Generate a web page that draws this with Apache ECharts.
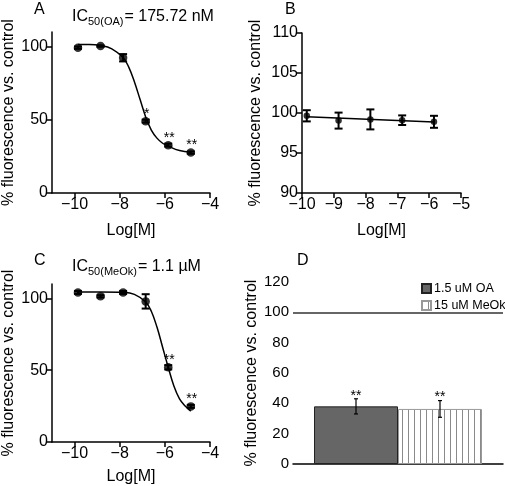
<!DOCTYPE html>
<html><head><meta charset="utf-8">
<script src="https://cdn.jsdelivr.net/npm/echarts@6/dist/echarts.min.js"></script>
<style>html,body{margin:0;padding:0;background:#fff}#c{width:505px;height:486px}</style>
</head><body><div id="c"></div>
<script>
// ---- Panel A data ----
const xA = [-9.85, -8.85, -7.85, -6.85, -5.85, -4.85];
const yA = [99.3, 100.4, 92.4, 49.1, 32.7, 27.6];
const errA = [0.8, 0.5, 2.5, 1.0, 1.0, 0.8];
const starsA = ['', '', '', '*', '**', '**'];
const curveAx = [-9.85, -9.35, -8.85, -8.35, -7.85, -7.6, -7.35, -7.1, -6.85, -6.6, -6.35, -6.1, -5.85, -5.35, -4.85];
const curveAy = [101.5, 101.5, 100.8, 98.5, 92.5, 86, 76, 64, 52, 43, 37.5, 34, 32, 29, 27.8];
const ticksAx = [-10, -8, -6, -4];
const ticksAy = [0, 50, 100];
// ---- Panel B data ----
const xB = [-9.85, -8.85, -7.85, -6.85, -5.85];
const yB = [99.65, 99.05, 99.2, 99.1, 98.9];
const errB = [0.7, 1.0, 1.25, 0.6, 0.75];
const lineBx = [-9.85, -5.85];
const lineBy = [99.54, 98.87];
// ---- Panel C data ----
const xC = [-9.85, -8.85, -7.85, -6.85, -5.85, -4.85];
const yC = [104.1, 101.4, 104.1, 97.9, 52, 24.8];
const errC = [1.0, 0.8, 1.0, 5.0, 1.5, 1.0];
const starsC = ['', '', '', '', '**', '**'];
const curveCx = [-9.85, -8.85, -7.85, -7.35, -6.85, -6.6, -6.35, -6.1, -5.85, -5.6, -5.35, -5.1, -4.85];
const curveCy = [104.5, 104.5, 104.2, 102.8, 97.5, 91, 80, 66, 52, 39, 30, 25, 21.5];
// ---- Panel D data ----
const catD = [''];
const seriesNamesD = ['1.5 uM OA', '15 uM MeOk'];
const valOA = [38];
const errOA = [5];
const valMeOk = [36.3];
const errMeOk = [5.5];
const starsD = ['**', '**'];
const refLineD = 100;

const FONT = '"Liberation Sans", Arial, Helvetica, sans-serif';
const zip = (a, b) => a.map((v, i) => [v, b[i]]);
const minus = v => String(v).replace('-', '\u2212');

// stripe pattern for MeOk bars
const pat = document.createElement('canvas');
pat.width = 6; pat.height = 6;
(function(){const g = pat.getContext('2d'); g.fillStyle = '#fff'; g.fillRect(0,0,6,6); g.fillStyle = '#8a8a8a'; g.fillRect(0,0,1,6);})();

function errRender(lw, cap) {
  return function (params, api) {
    const x = api.value(0), y = api.value(1), e = api.value(2);
    const t = api.coord([x, y + e]), b = api.coord([x, y - e]);
    const st = { stroke: '#000', lineWidth: lw };
    return { type: 'group', children: [
      { type: 'line', shape: { x1: t[0], y1: t[1], x2: b[0], y2: b[1] }, style: st },
      { type: 'line', shape: { x1: t[0] - cap, y1: t[1], x2: t[0] + cap, y2: t[1] }, style: st },
      { type: 'line', shape: { x1: b[0] - cap, y1: b[1], x2: b[0] + cap, y2: b[1] }, style: st }
    ]};
  };
}
const starMap = { sA: starsA, sC: starsC };
function starRender(dy) {
  return function (params, api) {
    const p = api.coord([api.value(0), api.value(1)]);
    return { type: 'text', x: p[0] + 1, y: p[1] - dy, style: { text: starMap[params.seriesName][params.dataIndex], textAlign: 'center', textVerticalAlign: 'bottom', font: '14px ' + FONT, fill: '#000' } };
  };
}

const axisLineStyle = { lineStyle: { color: '#000', width: 1.5 } };
const tickStyle = { length: 5, lineStyle: { color: '#000', width: 1.5 } };
const labStyle = { color: '#000', fontSize: 16, fontFamily: FONT, margin: 4, formatter: minus };
const nameStyle = { color: '#000', fontSize: 16, fontFamily: FONT };
const yName = '% fluorescence vs. control';

function valX(idx, min, max, extra) {
  return Object.assign({ type: 'value', gridIndex: idx, min: min, max: max, name: 'Log[M]', nameLocation: 'middle', nameGap: 30, nameTextStyle: nameStyle,
    axisLine: axisLineStyle, axisTick: tickStyle, axisLabel: labStyle, splitLine: { show: false } }, extra || {});
}
function valY(idx, min, max, gap, extra) {
  return Object.assign({ type: 'value', gridIndex: idx, min: min, max: max, name: yName, nameLocation: 'middle', nameGap: gap, nameTextStyle: nameStyle,
    axisLine: axisLineStyle, axisTick: tickStyle, axisLabel: labStyle, splitLine: { show: false } }, extra || {});
}

const option = {
  animation: false,
  backgroundColor: '#fff',
  textStyle: { fontFamily: FONT },
  grid: [
    { left: 51, top: 32, width: 159, height: 161 },
    { left: 302, top: 33, width: 159, height: 160 },
    { left: 51, top: 284, width: 159, height: 161 },
    { left: 293, top: 282, width: 210, height: 182 }
  ],
  xAxis: [
    valX(0, -11, -4, { axisTick: Object.assign({ customValues: ticksAx }, tickStyle), axisLabel: Object.assign({ customValues: ticksAx }, labStyle) }),
    valX(1, -10, -5, { interval: 1 }),
    valX(2, -11, -4, { axisTick: Object.assign({ customValues: ticksAx }, tickStyle), axisLabel: Object.assign({ customValues: ticksAx }, labStyle), nameGap: 27 }),
    { type: 'category', gridIndex: 3, data: catD, axisLine: axisLineStyle, axisTick: { length: 4, lineStyle: { color: '#000', width: 1.5 } }, axisLabel: { show: false } }
  ],
  yAxis: [
    valY(0, 0, 110, 35, { axisTick: Object.assign({ customValues: ticksAy }, tickStyle), axisLabel: Object.assign({ customValues: ticksAy }, labStyle) }),
    valY(1, 90, 110, 38, { interval: 5 }),
    valY(2, 0, 110, 35, { axisTick: Object.assign({ customValues: ticksAy }, tickStyle), axisLabel: Object.assign({ customValues: ticksAy }, labStyle) }),
    valY(3, 0, 120, 30, { interval: 20, axisLabel: Object.assign({}, labStyle, { fontSize: 15 }) })
  ],
  legend: {
    orient: 'vertical', left: 416, top: 277, itemGap: 4, itemWidth: 9, itemHeight: 9,
    textStyle: { fontSize: 12.5, color: '#000', fontFamily: FONT, padding: [0, 0, 0, -2] },
    data: [ { name: seriesNamesD[0], icon: 'rect' }, { name: seriesNamesD[1], icon: 'rect' } ]
  },
  series: [
    // A
    { type: 'line', xAxisIndex: 0, yAxisIndex: 0, data: zip(curveAx, curveAy), smooth: 0.4, showSymbol: false, lineStyle: { color: '#000', width: 1.5 }, z: 2 },
    { type: 'custom', xAxisIndex: 0, yAxisIndex: 0, data: xA.map((x, i) => [x, yA[i], errA[i]]), renderItem: errRender(2, 4), z: 3 },
    { type: 'scatter', xAxisIndex: 0, yAxisIndex: 0, data: zip(xA, yA), symbol: 'circle', symbolSize: 8.5, itemStyle: { color: '#000' }, z: 4 },
    { type: 'custom', name: 'sA', xAxisIndex: 0, yAxisIndex: 0, data: zip(xA, yA), renderItem: starRender(0), z: 5 },
    // B
    { type: 'line', xAxisIndex: 1, yAxisIndex: 1, data: zip(lineBx, lineBy), showSymbol: false, lineStyle: { color: '#000', width: 1.5 }, z: 2 },
    { type: 'custom', xAxisIndex: 1, yAxisIndex: 1, data: xB.map((x, i) => [x, yB[i], errB[i]]), renderItem: errRender(2, 4), z: 3 },
    { type: 'scatter', xAxisIndex: 1, yAxisIndex: 1, data: zip(xB, yB), symbol: 'circle', symbolSize: 6.5, itemStyle: { color: '#000' }, z: 4 },
    // C
    { type: 'line', xAxisIndex: 2, yAxisIndex: 2, data: zip(curveCx, curveCy), smooth: 0.4, showSymbol: false, lineStyle: { color: '#000', width: 1.5 }, z: 2 },
    { type: 'custom', xAxisIndex: 2, yAxisIndex: 2, data: xC.map((x, i) => [x, yC[i], errC[i]]), renderItem: errRender(2, 4), z: 3 },
    { type: 'scatter', xAxisIndex: 2, yAxisIndex: 2, data: zip(xC, yC), symbol: 'circle', symbolSize: 8.5, itemStyle: { color: '#000' }, z: 4 },
    { type: 'custom', name: 'sC', xAxisIndex: 2, yAxisIndex: 2, data: zip(xC, yC), renderItem: starRender(0), z: 5 },
    // D
    { type: 'bar', name: seriesNamesD[0], xAxisIndex: 3, yAxisIndex: 3, data: valOA, barGap: '0%', barCategoryGap: '20%',
      itemStyle: { color: '#666666', borderColor: '#222', borderWidth: 1 },
      markLine: { silent: true, symbol: 'none', label: { show: false }, lineStyle: { color: '#666', width: 2, type: 'solid' }, data: [{ yAxis: refLineD }] } },
    { type: 'bar', name: seriesNamesD[1], xAxisIndex: 3, yAxisIndex: 3, data: valMeOk, barGap: '0%', barCategoryGap: '20%',
      itemStyle: { color: { image: pat, repeat: 'repeat' }, borderColor: '#999', borderWidth: 1 } },
    { type: 'custom', xAxisIndex: 3, yAxisIndex: 3,
      data: [[0, valOA[0], errOA[0], -1, 0], [0, valMeOk[0], errMeOk[0], 1, 1]],
      renderItem: function (params, api) {
        const bw = api.size([1, 0])[0] * 0.8 / 2;
        const off = api.value(3) * bw / 2;
        const y = api.value(1), e = api.value(2);
        const t = api.coord([api.value(0), y + e]), b = api.coord([api.value(0), y - e]);
        const x = t[0] + off;
        const st = { stroke: '#000', lineWidth: 1.2 };
        return { type: 'group', children: [
          { type: 'line', shape: { x1: x, y1: t[1], x2: x, y2: b[1] }, style: st },
          { type: 'line', shape: { x1: x - 2, y1: t[1], x2: x + 2, y2: t[1] }, style: st },
          { type: 'line', shape: { x1: x - 2, y1: b[1], x2: x + 2, y2: b[1] }, style: st },
          { type: 'text', x: x, y: t[1] + 4, style: { text: starsD[api.value(4)], textAlign: 'center', textVerticalAlign: 'bottom', font: '14px ' + FONT, fill: '#000' } }
        ]};
      }, z: 5 }
  ],
  graphic: [
    { type: 'text', left: 34, top: 2, style: { text: 'A', font: '16px ' + FONT, fill: '#000' } },
    { type: 'text', left: 285, top: 2, style: { text: 'B', font: '16px ' + FONT, fill: '#000' } },
    { type: 'text', left: 34, top: 253, style: { text: 'C', font: '16px ' + FONT, fill: '#000' } },
    { type: 'text', left: 297, top: 253, style: { text: 'D', font: '16px ' + FONT, fill: '#000' } },
    { type: 'text', left: 72, top: 9, style: { text: '{m|IC}{s|50(OA)}{m|= 175.72 nM}', fill: '#000',
        rich: { m: { fontSize: 16, fontFamily: FONT, lineHeight: 21, verticalAlign: 'middle' }, s: { fontSize: 11, fontFamily: FONT, lineHeight: 12, verticalAlign: 'bottom', padding: [0, 1, 0, 0] } } } },
    { type: 'text', left: 72, top: 259, style: { text: '{m|IC}{s|50(MeOk)}{m|= 1.1 µM}', fill: '#000',
        rich: { m: { fontSize: 16, fontFamily: FONT, lineHeight: 21, verticalAlign: 'middle' }, s: { fontSize: 11, fontFamily: FONT, lineHeight: 12, verticalAlign: 'bottom', padding: [0, 1, 0, 0] } } } }
  ]
};
const chart = echarts.init(document.getElementById('c'), null, { renderer: 'canvas' });
chart.setOption(option);
</script></body></html>
